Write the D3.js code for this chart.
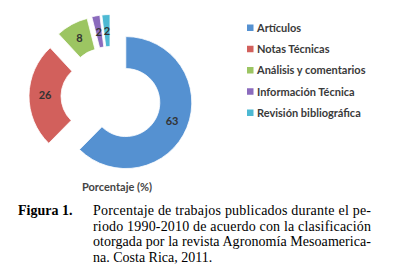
<!DOCTYPE html>
<html lang="es">
<head>
<meta charset="UTF-8">
<title>Figura 1</title>
<style>
    body { margin: 0; background: #fff; }
    svg { display: block; }
</style>
</head>
<body>
<svg class="chart"></svg>
<script src="https://d3js.org/d3.v7.min.js"></script>
<script>
// data
var categories = ['Artículos', 'Notas Técnicas', 'Análisis y comentarios', 'Información Técnica', 'Revisión bibliográfica'];
var values = [63, 26, 8, 2, 2];
var colors = ['#5591d1', '#d2605c', '#9cc562', '#8b6bbd', '#4db9d3'];
var axisTitle = 'Porcentaje (%)';
var captionLabel = 'Figura 1.';
var captionLines = [
    'Porcentaje de trabajos publicados durante el pe-',
    'riodo 1990-2010 de acuerdo con la clasificación',
    'otorgada por la revista Agronomía Mesoamerica-',
    'na. Costa Rica, 2011.'
];

var settings = {
    width: 405,
    height: 277,
    cx: 111, cy: 96.5,
    outer: 66, inner: 34,
    explode: 16
};

var svg = d3.select('.chart')
    .attr('width', settings.width)
    .attr('height', settings.height);

var pie = d3.pie().sort(null).value(d => d);
var arc = d3.arc().innerRadius(settings.inner).outerRadius(settings.outer);

var slices = pie(values);

var donut = svg.append('g')
    .attr('transform', `translate(${settings.cx}, ${settings.cy})`);

// every slice pushed out along its own bisector (exploded doughnut)
var slice = donut.selectAll('.slice')
    .data(slices)
    .enter()
    .append('g')
    .attr('class', 'slice')
    .attr('transform', d => {
        var a = (d.startAngle + d.endAngle) / 2;
        return `translate(${Math.sin(a) * settings.explode}, ${-Math.cos(a) * settings.explode})`;
    });

slice.append('path')
    .attr('d', arc)
    .attr('fill', (d, i) => colors[i])
    .attr('stroke', '#fff')
    .attr('stroke-width', 0.8);

slice.append('text')
    .attr('transform', d => `translate(${arc.centroid(d)})`)
    .attr('text-anchor', 'middle')
    .attr('dy', '0.36em')
    .style('font-family', 'Lato, sans-serif')
    .style('font-size', '11px')
    .style('font-weight', 'bold')
    .style('fill', '#333')
    .text(d => d.data);

svg.append('text')
    .attr('x', 117)
    .attr('y', 191)
    .attr('text-anchor', 'middle')
    .style('font-family', 'Lato, sans-serif')
    .style('font-size', '11px')
    .style('font-weight', 'bold')
    .style('fill', '#444')
    .text(axisTitle);

// legend
var legendY = d3.scalePoint().domain(categories).range([28, 113]);

var legend = svg.selectAll('.legend')
    .data(categories)
    .enter()
    .append('g')
    .attr('class', 'legend')
    .attr('transform', d => `translate(247, ${legendY(d)})`);

legend.append('rect')
    .attr('x', 0)
    .attr('y', -3.5)
    .attr('width', 6.5)
    .attr('height', 6.5)
    .attr('fill', (d, i) => colors[i]);

legend.append('text')
    .attr('x', 10)
    .attr('dy', '0.36em')
    .style('font-family', 'Lato, sans-serif')
    .style('font-size', '11px')
    .style('font-weight', 'bold')
    .style('fill', '#3a3a3a')
    .text(d => d);

// caption
svg.append('text')
    .attr('x', 18)
    .attr('y', 215)
    .style('font-family', '"Liberation Serif", serif')
    .style('font-size', '14px')
    .style('font-weight', 'bold')
    .text(captionLabel);

var captionY = d3.scaleLinear().domain([0, 3]).range([215, 262]);

svg.selectAll('.caption')
    .data(captionLines)
    .enter()
    .append('text')
    .attr('class', 'caption')
    .attr('x', 93)
    .attr('y', (d, i) => captionY(i))
    .attr('textLength', (d, i) => i < 3 ? 278 : null)
    .attr('lengthAdjust', 'spacing')
    .style('font-family', '"Liberation Serif", serif')
    .style('font-size', '14px')
    .text(d => d);
</script>
</body>
</html>
